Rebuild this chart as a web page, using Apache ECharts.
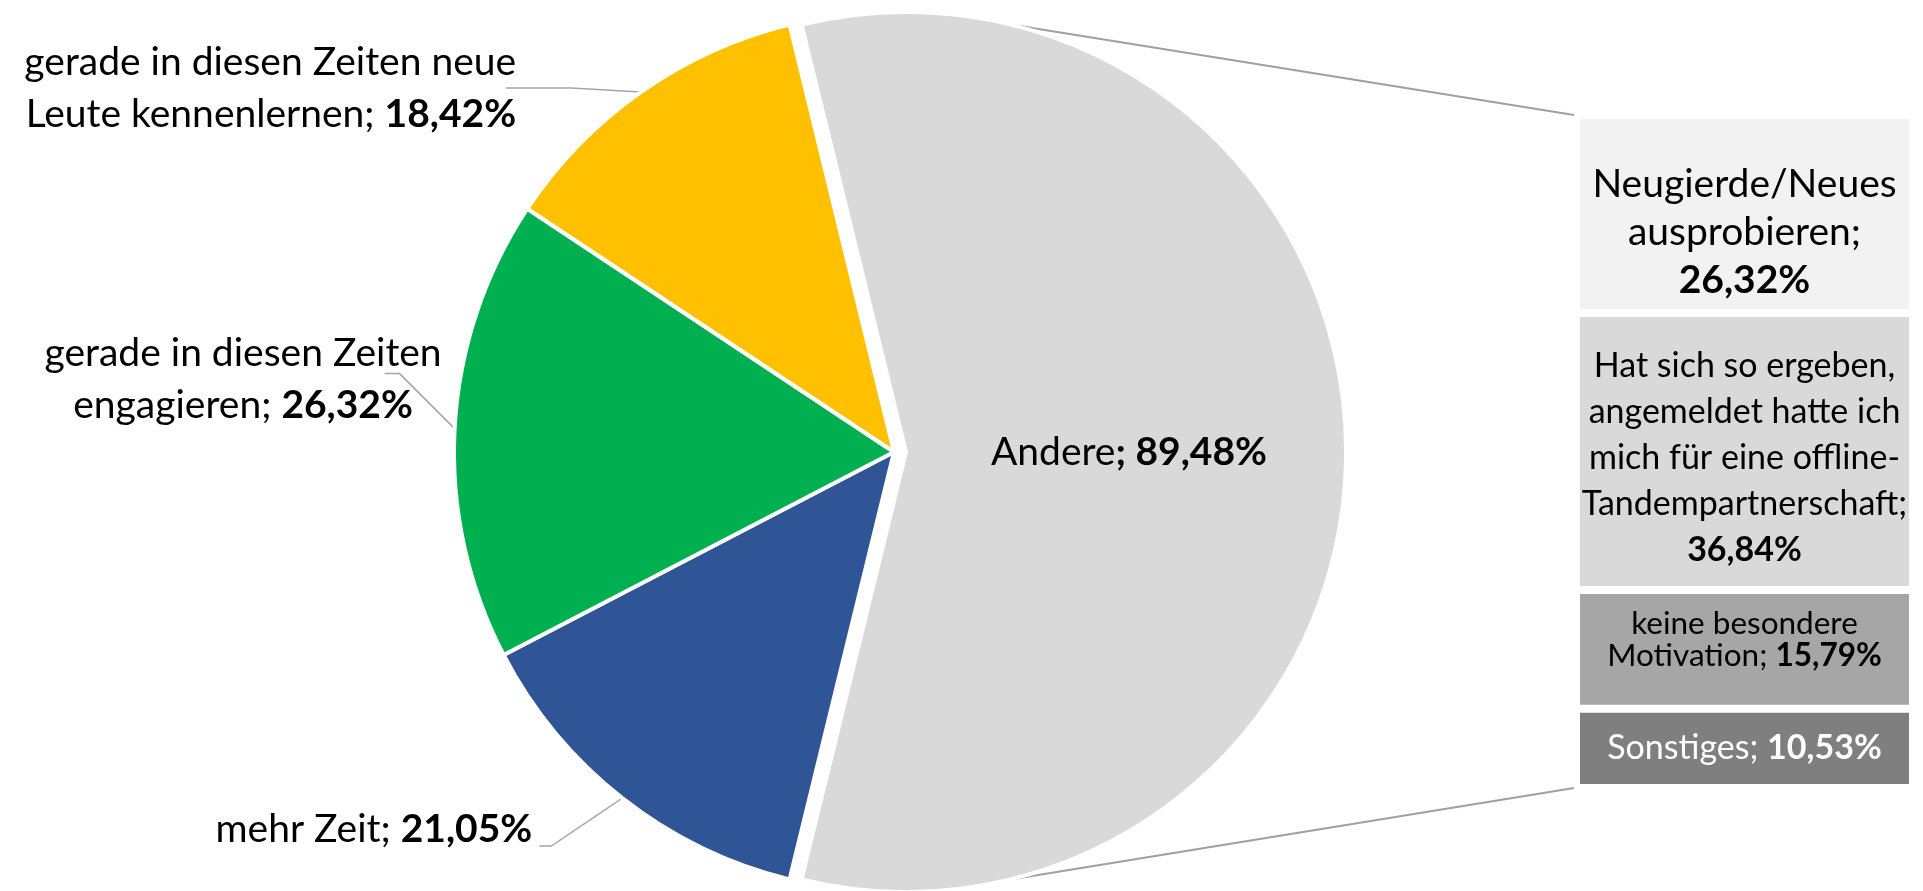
<!DOCTYPE html>
<html><head><meta charset="utf-8">
<script src="https://cdn.jsdelivr.net/npm/echarts@6/dist/echarts.min.js"></script>
<style>html,body{margin:0;padding:0;background:#fff;overflow:hidden}#c{width:1923px;height:891px}</style>
</head><body><div id="c"></div>
<script>
// ---- data ----
const pieNames = ['Andere', 'mehr Zeit', 'gerade in diesen Zeiten\nengagieren', 'gerade in diesen Zeiten neue\nLeute kennenlernen'];
const pieValues = [89.48, 21.05, 26.32, 18.42];
const barNames = ['Neugierde/Neues\nausprobieren', 'Hat sich so ergeben,\nangemeldet hatte ich\nmich für eine offline-\nTandempartnerschaft', 'keine besondere\nMotivation', 'Sonstiges'];
const barValues = [26.32, 36.84, 15.79, 10.53];

// ---- styles ----
const FONT = 'Lato';
const pieColors = ['#D9D9D9', '#2F5597', '#00B050', '#FFC000'];
const barColors = ['#F2F2F2', '#D9D9D9', '#A6A6A6', '#7F7F7F'];
const barTextColors = ['#000', '#000', '#000', '#fff'];
const barSep = ['\n', '\n', ' ', ' '];
const barFont = [39, 34, 31.5, 34];
const barLineH = [48, 46, 32, 40];
const barOffsetY = [18, 7, -10, 0];
const PC = [894, 452], PR = 440, EXPLODE = 12;
const G = {left: 1576, top: 115, width: 337, height: 673};

const fmt = v => v.toFixed(2).replace('.', ',') + '%';
const pieTotal = pieValues.reduce((a, b) => a + b, 0);
const barTotal = barValues.reduce((a, b) => a + b, 0);
const startAngle = pieValues[0] / pieTotal * 180;

function midAngle(i) {
  let acc = 0;
  for (let j = 0; j < i; j++) acc += pieValues[j];
  return startAngle - (acc + pieValues[i] / 2) / pieTotal * 360;
}
function anchor(i) {
  const a = midAngle(i) * Math.PI / 180;
  return [PC[0] + PR * Math.cos(a), PC[1] - PR * Math.sin(a)];
}
// label placement relative to slice edge anchor (style)
const pieLabelPlace = {
  1: {line: [[-71, 48], [-83, 48]], text: [-90, 31], align: 'right'},
  2: {line: [[-55, -55], [-70, -55]], text: [-13, -49], align: 'right'},
  3: {line: [[-70, -4], [-135, -4]], text: [-125, -4], align: 'right'}
};

const richPie = {
  n: {fontFamily: FONT, fontSize: 39, lineHeight: 52, color: '#000'},
  b: {fontFamily: FONT, fontSize: 39, lineHeight: 52, color: '#000', fontWeight: 'bold'},
  nc: {fontFamily: FONT, fontSize: 39, lineHeight: 52, color: '#000', align: 'center'},
  bc: {fontFamily: FONT, fontSize: 39, lineHeight: 52, color: '#000', fontWeight: 'bold', align: 'center'}
};

function pieLabel(p) {
  const i = p.dataIndex;
  const v = fmt(pieValues[i]);
  if (i === 0) return '{n|' + pieNames[i] + '}{b|; ' + v + '}';
  const lines = pieNames[i].split('\n');
  if (i === 2) {
    const last = lines.pop();
    return lines.map(l => '{nc|' + l + '}').join('\n') + '\n{nc|' + last + '; }{bc|' + v + '}';
  }
  const last = lines.pop();
  return lines.map(l => '{n|' + l + '}').join('\n') + (lines.length ? '\n' : '') + '{n|' + last + '; }{b|' + v + '}';
}

const chart = echarts.init(document.getElementById('c'), null, {renderer: 'canvas'});

const series = [{
  type: 'pie',
  center: PC,
  radius: PR,
  startAngle: startAngle,
  clockwise: true,
  animation: false,
  avoidLabelOverlap: false,
  selectedMode: 'single',
  selectedOffset: EXPLODE,
  emphasis: {disabled: true},
  itemStyle: {borderColor: '#fff', borderWidth: 4},
  label: {show: true, position: 'outside', formatter: pieLabel, fontFamily: FONT, fontSize: 39, lineHeight: 52, color: '#000', rich: richPie},
  labelLine: {show: true, length: 10, length2: 10, smooth: false, lineStyle: {color: '#A6A6A6', width: 1.5}},
  labelLayout: function (p) {
    const cfg = pieLabelPlace[p.dataIndex];
    if (!cfg) return {};
    const A = anchor(p.dataIndex);
    return {
      x: A[0] + cfg.text[0], y: A[1] + cfg.text[1], align: cfg.align, verticalAlign: 'middle',
      labelLinePoints: [A, [A[0] + cfg.line[0][0], A[1] + cfg.line[0][1]], [A[0] + cfg.line[1][0], A[1] + cfg.line[1][1]]]
    };
  },
  data: pieValues.map((v, i) => ({
    name: pieNames[i], value: v, selected: i === 0,
    itemStyle: {color: pieColors[i]},
    label: i === 0 ? {position: 'inside'} : undefined,
    labelLine: i === 0 ? {show: false} : undefined
  }))
}];

barValues.forEach((v, i) => {
  const fs = barFont[i], lh = barLineH[i], col = barTextColors[i];
  series.push({
    type: 'bar', stack: 'other', name: barNames[i], data: [v], barWidth: '100%',
    xAxisIndex: 0, yAxisIndex: 0, animation: false,
    emphasis: {disabled: true},
    itemStyle: {color: barColors[i], borderColor: '#fff', borderWidth: 4},
    label: {
      show: true, position: 'inside', offset: [0, barOffsetY[i]],
      formatter: function () {
        const lines = barNames[i].split('\n');
        const last = lines.pop();
        let s = lines.map(l => '{n|' + l + '}').join('\n');
        if (lines.length) s += '\n';
        const lastTxt = last + ';';
        if (barSep[i] === '\n') return s + '{n|' + lastTxt + '}\n{b|' + fmt(v) + '}';
        return s + '{n|' + lastTxt + ' }{b|' + fmt(v) + '}';
      },
      fontFamily: FONT, fontSize: fs, lineHeight: lh, color: col, align: 'center', verticalAlign: 'middle',
      rich: {
        n: {fontFamily: FONT, fontSize: fs, lineHeight: lh, color: col, align: 'center'},
        b: {fontFamily: FONT, fontSize: fs, lineHeight: lh, color: col, fontWeight: 'bold', align: 'center'}
      }
    }
  });
});

chart.setOption({
  animation: false,
  backgroundColor: '#fff',
  grid: {left: G.left, top: G.top, width: G.width, height: G.height, containLabel: false},
  xAxis: {type: 'category', data: ['Andere'], show: false},
  yAxis: {type: 'value', inverse: true, min: 0, max: barTotal, show: false},
  series: series
});

// connector lines from the exploded slice to the bar
function drawConnectors() {
  const yTop = chart.convertToPixel({yAxisIndex: 0}, 0);
  const yBot = chart.convertToPixel({yAxisIndex: 0}, barTotal);
  const xBar = G.left - 2;
  const ang = (180 - startAngle) * Math.PI / 180;
  const cx = PC[0] + EXPLODE;
  const p1 = [cx + PR * Math.cos(ang), PC[1] - PR * Math.sin(ang)];
  const p2 = [cx + PR * Math.cos(ang), PC[1] + PR * Math.sin(ang)];
  chart.setOption({
    graphic: [
      {type: 'line', silent: true, shape: {x1: p1[0], y1: p1[1], x2: xBar, y2: yTop}, style: {stroke: '#A0A0A0', lineWidth: 2}},
      {type: 'line', silent: true, shape: {x1: p2[0], y1: p2[1], x2: xBar, y2: yBot}, style: {stroke: '#A0A0A0', lineWidth: 2}}
    ]
  });
}
drawConnectors();
</script>
</body></html>
